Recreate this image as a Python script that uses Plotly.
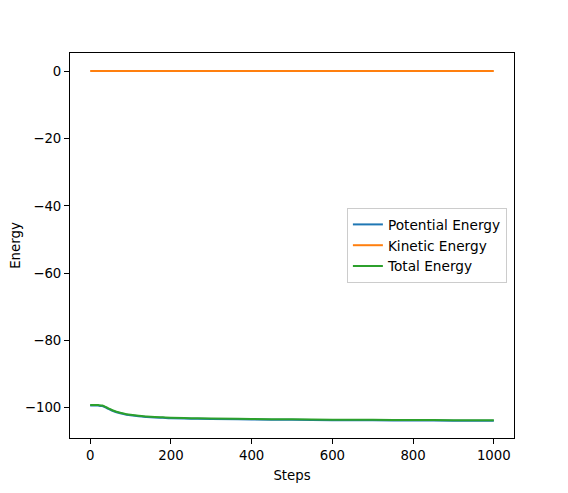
import plotly.graph_objects as go

steps = [0, 10, 20, 30, 40, 50, 60, 70, 80, 90, 100, 120, 140, 160, 180, 200,
         250, 300, 400, 500, 600, 700, 800, 900, 1000]
potential = [-99.4, -99.4, -99.45, -99.6, -100.1, -100.7, -101.2, -101.6, -101.9,
             -102.15, -102.35, -102.65, -102.85, -103.0, -103.1, -103.2,
             -103.35, -103.45, -103.6, -103.7, -103.8, -103.85, -103.9, -103.95, -104.0]
kinetic = [0.15, 0.15, 0.15, 0.15, 0.15, 0.15, 0.15, 0.15, 0.15, 0.15, 0.15, 0.15,
           0.15, 0.15, 0.15, 0.15, 0.15, 0.15, 0.15, 0.15, 0.15, 0.15, 0.15, 0.15, 0.15]
total = [-99.25, -99.25, -99.3, -99.45, -99.95, -100.55, -101.05, -101.45, -101.75,
         -102.0, -102.2, -102.5, -102.7, -102.85, -102.95, -103.05,
         -103.2, -103.3, -103.45, -103.55, -103.65, -103.7, -103.75, -103.8, -103.85]

x_ticks = [0, 200, 400, 600, 800, 1000]
y_ticks = [0, -20, -40, -60, -80, -100]

fig = go.Figure()
fig.add_trace(go.Scatter(x=steps, y=potential, mode="lines", name="Potential Energy",
                         line=dict(color="#1f77b4", width=2, shape="spline")))
fig.add_trace(go.Scatter(x=steps, y=kinetic, mode="lines", name="Kinetic Energy",
                         line=dict(color="#ff7f0e", width=2, shape="spline")))
fig.add_trace(go.Scatter(x=steps, y=total, mode="lines", name="Total Energy",
                         line=dict(color="#2ca02c", width=2, shape="spline")))

axis_common = dict(showgrid=False, zeroline=False, showline=True, linecolor="black",
                   linewidth=1, mirror=True, ticks="outside", ticklen=5, tickwidth=1,
                   tickcolor="black", tickfont=dict(size=13.3, color="black"),
                   automargin=False)

fig.update_layout(
    width=568, height=493,
    margin=dict(l=62, r=62, t=45, b=63),
    paper_bgcolor="white", plot_bgcolor="white",
    font=dict(family="DejaVu Sans", size=13.3, color="black"),
    xaxis=dict(range=[-50, 1050], tickvals=x_ticks,
               title=dict(text="Steps", font=dict(size=13.3), standoff=8), **axis_common),
    yaxis=dict(range=[-109.1, 5.5], tickvals=y_ticks,
               title=dict(text="Energy", font=dict(size=13.3), standoff=1), **axis_common),
    legend=dict(x=0.984, y=0.5, xanchor="right", yanchor="middle",
                bgcolor="rgba(255,255,255,0.8)", bordercolor="#cccccc", borderwidth=1,
                font=dict(size=13.7)),
    showlegend=True,
)

fig.write_html("out.html")
